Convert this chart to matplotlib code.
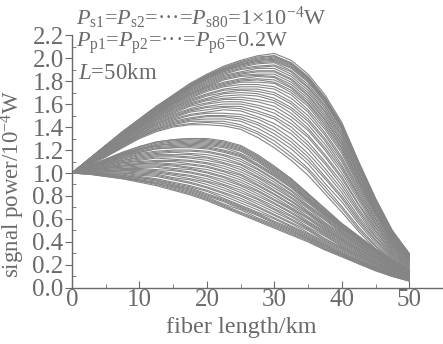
import matplotlib
matplotlib.use("Agg")
import matplotlib.pyplot as plt
from matplotlib.ticker import MultipleLocator

plt.rcParams['font.family'] = ['Liberation Serif', 'DejaVu Serif']
plt.rcParams['mathtext.fontset'] = 'custom'
plt.rcParams['mathtext.rm'] = 'Liberation Serif'
plt.rcParams['mathtext.it'] = 'Liberation Serif:italic'

fiber_km = [0, 2.5, 5, 7.5, 10, 12.5, 15, 17.5, 20, 22.5, 25,
            27.5, 30, 32.5, 35, 37.5, 40, 42.5, 45, 47.5, 50]

# signal power (10^-4 W), upper group of channels
upper_band = [
    [1.00, 1.07, 1.14, 1.22, 1.30, 1.36, 1.40, 1.42, 1.42, 1.41, 1.38, 1.31, 1.22, 1.11, 0.98, 0.82, 0.66, 0.49, 0.34, 0.22, 0.12],
    [1.00, 1.07, 1.14, 1.23, 1.31, 1.37, 1.41, 1.43, 1.44, 1.43, 1.40, 1.34, 1.25, 1.14, 1.02, 0.85, 0.69, 0.51, 0.36, 0.23, 0.13],
    [1.00, 1.07, 1.15, 1.23, 1.31, 1.38, 1.42, 1.45, 1.45, 1.45, 1.42, 1.36, 1.28, 1.17, 1.04, 0.88, 0.71, 0.53, 0.37, 0.24, 0.13],
    [1.00, 1.08, 1.15, 1.24, 1.32, 1.38, 1.43, 1.46, 1.47, 1.47, 1.45, 1.39, 1.31, 1.21, 1.08, 0.91, 0.75, 0.56, 0.39, 0.25, 0.14],
    [1.00, 1.08, 1.15, 1.24, 1.33, 1.39, 1.44, 1.47, 1.49, 1.49, 1.47, 1.42, 1.34, 1.24, 1.11, 0.95, 0.78, 0.58, 0.41, 0.26, 0.15],
    [1.00, 1.08, 1.16, 1.25, 1.33, 1.40, 1.45, 1.48, 1.50, 1.50, 1.49, 1.44, 1.37, 1.27, 1.14, 0.97, 0.80, 0.60, 0.42, 0.27, 0.15],
    [1.00, 1.08, 1.16, 1.25, 1.34, 1.41, 1.46, 1.50, 1.52, 1.52, 1.51, 1.47, 1.40, 1.30, 1.17, 1.01, 0.83, 0.62, 0.44, 0.28, 0.16],
    [1.00, 1.08, 1.17, 1.26, 1.34, 1.42, 1.47, 1.51, 1.53, 1.55, 1.54, 1.49, 1.43, 1.34, 1.21, 1.04, 0.86, 0.65, 0.45, 0.29, 0.17],
    [1.00, 1.08, 1.17, 1.26, 1.35, 1.43, 1.48, 1.53, 1.55, 1.57, 1.56, 1.52, 1.47, 1.37, 1.24, 1.08, 0.89, 0.67, 0.47, 0.30, 0.17],
    [1.00, 1.09, 1.17, 1.27, 1.36, 1.43, 1.49, 1.54, 1.57, 1.58, 1.58, 1.54, 1.49, 1.40, 1.27, 1.10, 0.92, 0.69, 0.49, 0.31, 0.18],
    [1.00, 1.09, 1.18, 1.27, 1.36, 1.44, 1.50, 1.55, 1.58, 1.60, 1.60, 1.57, 1.52, 1.43, 1.31, 1.14, 0.95, 0.72, 0.50, 0.32, 0.19],
    [1.00, 1.09, 1.18, 1.28, 1.37, 1.45, 1.51, 1.56, 1.60, 1.62, 1.62, 1.59, 1.55, 1.46, 1.33, 1.16, 0.97, 0.73, 0.52, 0.33, 0.19],
    [1.00, 1.09, 1.18, 1.28, 1.37, 1.46, 1.52, 1.58, 1.61, 1.64, 1.64, 1.62, 1.58, 1.49, 1.37, 1.20, 1.00, 0.76, 0.53, 0.34, 0.20],
    [1.00, 1.09, 1.19, 1.29, 1.38, 1.46, 1.53, 1.59, 1.63, 1.65, 1.66, 1.64, 1.61, 1.52, 1.39, 1.22, 1.03, 0.78, 0.55, 0.35, 0.20],
    [1.00, 1.09, 1.19, 1.29, 1.39, 1.47, 1.54, 1.60, 1.64, 1.67, 1.68, 1.67, 1.63, 1.55, 1.42, 1.25, 1.05, 0.80, 0.56, 0.36, 0.21],
    [1.00, 1.10, 1.19, 1.29, 1.39, 1.48, 1.55, 1.61, 1.65, 1.69, 1.70, 1.69, 1.65, 1.57, 1.45, 1.28, 1.07, 0.81, 0.57, 0.37, 0.22],
    [1.00, 1.10, 1.20, 1.30, 1.40, 1.48, 1.56, 1.62, 1.67, 1.70, 1.72, 1.71, 1.68, 1.60, 1.47, 1.30, 1.10, 0.83, 0.59, 0.38, 0.22],
    [1.00, 1.10, 1.20, 1.30, 1.40, 1.49, 1.57, 1.63, 1.68, 1.72, 1.73, 1.73, 1.70, 1.62, 1.50, 1.33, 1.12, 0.85, 0.60, 0.39, 0.23],
    [1.00, 1.10, 1.20, 1.31, 1.41, 1.50, 1.57, 1.64, 1.69, 1.73, 1.75, 1.75, 1.73, 1.65, 1.53, 1.35, 1.14, 0.87, 0.61, 0.39, 0.23],
    [1.00, 1.10, 1.21, 1.31, 1.41, 1.50, 1.58, 1.65, 1.71, 1.75, 1.77, 1.77, 1.75, 1.68, 1.55, 1.38, 1.17, 0.89, 0.63, 0.40, 0.24],
    [1.00, 1.10, 1.21, 1.32, 1.42, 1.51, 1.59, 1.66, 1.72, 1.76, 1.79, 1.79, 1.78, 1.70, 1.58, 1.40, 1.19, 0.90, 0.64, 0.41, 0.24],
    [1.00, 1.10, 1.21, 1.32, 1.42, 1.51, 1.60, 1.67, 1.73, 1.77, 1.80, 1.81, 1.79, 1.72, 1.60, 1.42, 1.21, 0.92, 0.65, 0.42, 0.25],
    [1.00, 1.11, 1.21, 1.32, 1.42, 1.52, 1.60, 1.68, 1.74, 1.78, 1.81, 1.82, 1.81, 1.74, 1.61, 1.44, 1.22, 0.93, 0.66, 0.42, 0.25],
    [1.00, 1.11, 1.21, 1.32, 1.43, 1.52, 1.61, 1.69, 1.75, 1.79, 1.82, 1.84, 1.83, 1.75, 1.63, 1.46, 1.24, 0.94, 0.67, 0.43, 0.25],
    [1.00, 1.11, 1.22, 1.33, 1.43, 1.53, 1.61, 1.69, 1.75, 1.81, 1.84, 1.85, 1.84, 1.77, 1.65, 1.47, 1.25, 0.95, 0.67, 0.43, 0.26],
    [1.00, 1.11, 1.22, 1.33, 1.43, 1.53, 1.62, 1.70, 1.76, 1.82, 1.85, 1.86, 1.86, 1.79, 1.67, 1.49, 1.27, 0.97, 0.68, 0.44, 0.26],
    [1.00, 1.11, 1.22, 1.33, 1.44, 1.54, 1.62, 1.71, 1.77, 1.83, 1.86, 1.88, 1.88, 1.81, 1.68, 1.51, 1.28, 0.98, 0.69, 0.44, 0.26],
    [1.00, 1.11, 1.22, 1.33, 1.44, 1.54, 1.63, 1.72, 1.78, 1.84, 1.87, 1.89, 1.89, 1.82, 1.70, 1.53, 1.30, 0.99, 0.70, 0.45, 0.27],
    [1.00, 1.11, 1.22, 1.34, 1.44, 1.54, 1.64, 1.72, 1.79, 1.85, 1.88, 1.91, 1.91, 1.84, 1.72, 1.54, 1.32, 1.00, 0.71, 0.46, 0.27],
    [1.00, 1.11, 1.23, 1.34, 1.45, 1.55, 1.64, 1.73, 1.80, 1.86, 1.90, 1.92, 1.93, 1.86, 1.74, 1.56, 1.33, 1.01, 0.72, 0.46, 0.27],
    [1.00, 1.11, 1.23, 1.34, 1.45, 1.55, 1.65, 1.74, 1.81, 1.87, 1.91, 1.93, 1.94, 1.88, 1.75, 1.58, 1.35, 1.03, 0.73, 0.47, 0.28],
    [1.00, 1.11, 1.23, 1.35, 1.45, 1.56, 1.65, 1.74, 1.82, 1.88, 1.92, 1.95, 1.96, 1.89, 1.77, 1.59, 1.36, 1.04, 0.74, 0.47, 0.28],
    [1.00, 1.12, 1.23, 1.35, 1.46, 1.56, 1.66, 1.75, 1.82, 1.89, 1.93, 1.96, 1.97, 1.91, 1.79, 1.61, 1.38, 1.05, 0.74, 0.48, 0.29],
    [1.00, 1.12, 1.23, 1.35, 1.46, 1.56, 1.66, 1.75, 1.83, 1.89, 1.94, 1.97, 1.98, 1.92, 1.80, 1.62, 1.39, 1.06, 0.75, 0.48, 0.29],
    [1.00, 1.12, 1.23, 1.35, 1.46, 1.57, 1.66, 1.76, 1.83, 1.90, 1.94, 1.98, 1.99, 1.93, 1.81, 1.63, 1.39, 1.06, 0.75, 0.48, 0.29],
    [1.00, 1.12, 1.24, 1.35, 1.46, 1.57, 1.67, 1.76, 1.84, 1.90, 1.95, 1.98, 2.00, 1.94, 1.82, 1.64, 1.40, 1.07, 0.76, 0.49, 0.29],
    [1.00, 1.12, 1.24, 1.35, 1.46, 1.57, 1.67, 1.77, 1.84, 1.91, 1.96, 1.99, 2.01, 1.95, 1.82, 1.65, 1.41, 1.08, 0.76, 0.49, 0.29],
    [1.00, 1.12, 1.24, 1.36, 1.46, 1.57, 1.67, 1.77, 1.85, 1.91, 1.96, 2.00, 2.02, 1.95, 1.83, 1.65, 1.42, 1.08, 0.77, 0.49, 0.29],
    [1.00, 1.12, 1.24, 1.36, 1.47, 1.58, 1.67, 1.77, 1.85, 1.92, 1.97, 2.01, 2.02, 1.96, 1.84, 1.66, 1.42, 1.09, 0.77, 0.49, 0.30],
    [1.00, 1.12, 1.24, 1.36, 1.47, 1.58, 1.68, 1.78, 1.86, 1.93, 1.98, 2.02, 2.04, 1.98, 1.86, 1.68, 1.44, 1.10, 0.78, 0.50, 0.30],
]

# signal power (10^-4 W), lower group of channels
lower_band = [
    [1.00, 0.99, 0.97, 0.95, 0.92, 0.89, 0.85, 0.81, 0.76, 0.70, 0.64, 0.58, 0.52, 0.46, 0.40, 0.33, 0.27, 0.21, 0.15, 0.10, 0.06],
    [1.00, 0.99, 0.97, 0.95, 0.93, 0.90, 0.86, 0.82, 0.77, 0.71, 0.65, 0.59, 0.53, 0.47, 0.41, 0.34, 0.28, 0.21, 0.15, 0.10, 0.06],
    [1.00, 0.99, 0.98, 0.96, 0.93, 0.91, 0.87, 0.83, 0.78, 0.72, 0.66, 0.60, 0.54, 0.48, 0.42, 0.34, 0.28, 0.22, 0.16, 0.11, 0.06],
    [1.00, 0.99, 0.98, 0.96, 0.94, 0.91, 0.88, 0.84, 0.79, 0.73, 0.68, 0.61, 0.55, 0.49, 0.43, 0.35, 0.29, 0.22, 0.16, 0.11, 0.07],
    [1.00, 1.00, 0.98, 0.97, 0.94, 0.92, 0.89, 0.85, 0.80, 0.75, 0.69, 0.63, 0.56, 0.50, 0.43, 0.36, 0.29, 0.23, 0.17, 0.11, 0.07],
    [1.00, 1.00, 0.98, 0.97, 0.95, 0.93, 0.89, 0.86, 0.81, 0.76, 0.70, 0.64, 0.57, 0.51, 0.44, 0.37, 0.30, 0.23, 0.17, 0.11, 0.07],
    [1.00, 1.00, 0.99, 0.98, 0.96, 0.94, 0.90, 0.87, 0.82, 0.77, 0.71, 0.65, 0.58, 0.52, 0.45, 0.37, 0.30, 0.24, 0.17, 0.12, 0.07],
    [1.00, 1.00, 0.99, 0.98, 0.96, 0.94, 0.91, 0.88, 0.84, 0.78, 0.72, 0.66, 0.60, 0.53, 0.46, 0.38, 0.31, 0.24, 0.18, 0.12, 0.07],
    [1.00, 1.00, 0.99, 0.99, 0.97, 0.95, 0.92, 0.89, 0.85, 0.80, 0.74, 0.68, 0.61, 0.54, 0.47, 0.39, 0.32, 0.25, 0.18, 0.12, 0.08],
    [1.00, 1.00, 1.00, 1.00, 0.98, 0.97, 0.94, 0.91, 0.87, 0.82, 0.76, 0.70, 0.63, 0.56, 0.48, 0.40, 0.33, 0.26, 0.19, 0.13, 0.08],
    [1.00, 1.01, 1.00, 1.00, 0.99, 0.98, 0.95, 0.92, 0.88, 0.83, 0.78, 0.71, 0.64, 0.57, 0.50, 0.41, 0.34, 0.27, 0.19, 0.13, 0.08],
    [1.00, 1.01, 1.01, 1.01, 1.00, 0.99, 0.96, 0.94, 0.90, 0.85, 0.80, 0.73, 0.66, 0.59, 0.51, 0.42, 0.35, 0.27, 0.20, 0.14, 0.08],
    [1.00, 1.01, 1.01, 1.02, 1.01, 1.00, 0.98, 0.95, 0.92, 0.87, 0.81, 0.75, 0.68, 0.60, 0.52, 0.43, 0.35, 0.28, 0.21, 0.14, 0.09],
    [1.00, 1.01, 1.02, 1.02, 1.02, 1.01, 0.99, 0.97, 0.93, 0.89, 0.83, 0.77, 0.69, 0.62, 0.53, 0.45, 0.36, 0.29, 0.21, 0.14, 0.09],
    [1.00, 1.01, 1.02, 1.03, 1.03, 1.02, 1.00, 0.98, 0.95, 0.90, 0.85, 0.78, 0.71, 0.63, 0.55, 0.46, 0.37, 0.29, 0.22, 0.15, 0.09],
    [1.00, 1.02, 1.03, 1.04, 1.04, 1.03, 1.02, 1.00, 0.97, 0.92, 0.87, 0.80, 0.73, 0.65, 0.56, 0.47, 0.38, 0.30, 0.22, 0.15, 0.09],
    [1.00, 1.02, 1.03, 1.04, 1.05, 1.05, 1.03, 1.01, 0.98, 0.94, 0.89, 0.82, 0.74, 0.66, 0.57, 0.48, 0.39, 0.31, 0.23, 0.16, 0.10],
    [1.00, 1.02, 1.04, 1.05, 1.06, 1.06, 1.04, 1.03, 1.00, 0.96, 0.90, 0.84, 0.76, 0.68, 0.58, 0.49, 0.40, 0.32, 0.23, 0.16, 0.10],
    [1.00, 1.02, 1.04, 1.06, 1.07, 1.07, 1.06, 1.04, 1.01, 0.97, 0.92, 0.85, 0.77, 0.69, 0.60, 0.50, 0.41, 0.32, 0.24, 0.17, 0.10],
    [1.00, 1.02, 1.05, 1.06, 1.08, 1.08, 1.07, 1.05, 1.03, 0.99, 0.94, 0.87, 0.79, 0.70, 0.61, 0.51, 0.42, 0.33, 0.25, 0.17, 0.10],
    [1.00, 1.03, 1.05, 1.07, 1.08, 1.09, 1.08, 1.07, 1.05, 1.01, 0.96, 0.89, 0.81, 0.72, 0.62, 0.52, 0.42, 0.34, 0.25, 0.17, 0.11],
    [1.00, 1.03, 1.05, 1.08, 1.09, 1.10, 1.10, 1.08, 1.06, 1.02, 0.98, 0.90, 0.82, 0.73, 0.64, 0.53, 0.43, 0.34, 0.26, 0.18, 0.11],
    [1.00, 1.03, 1.06, 1.09, 1.10, 1.11, 1.11, 1.10, 1.08, 1.04, 0.99, 0.92, 0.84, 0.75, 0.65, 0.54, 0.44, 0.35, 0.26, 0.18, 0.11],
    [1.00, 1.03, 1.06, 1.09, 1.11, 1.13, 1.12, 1.11, 1.09, 1.06, 1.01, 0.94, 0.85, 0.76, 0.66, 0.55, 0.45, 0.36, 0.27, 0.19, 0.12],
    [1.00, 1.04, 1.07, 1.10, 1.12, 1.14, 1.14, 1.13, 1.11, 1.08, 1.03, 0.96, 0.87, 0.78, 0.67, 0.56, 0.46, 0.37, 0.27, 0.19, 0.12],
    [1.00, 1.04, 1.07, 1.11, 1.13, 1.15, 1.15, 1.14, 1.13, 1.09, 1.05, 0.97, 0.89, 0.79, 0.69, 0.57, 0.47, 0.37, 0.28, 0.20, 0.12],
    [1.00, 1.04, 1.08, 1.11, 1.14, 1.16, 1.16, 1.16, 1.14, 1.11, 1.07, 0.99, 0.90, 0.81, 0.70, 0.59, 0.48, 0.38, 0.28, 0.20, 0.12],
    [1.00, 1.04, 1.08, 1.12, 1.15, 1.17, 1.18, 1.17, 1.16, 1.13, 1.08, 1.01, 0.92, 0.82, 0.71, 0.60, 0.48, 0.39, 0.29, 0.20, 0.13],
    [1.00, 1.04, 1.09, 1.13, 1.16, 1.18, 1.19, 1.19, 1.18, 1.15, 1.10, 1.03, 0.94, 0.84, 0.72, 0.61, 0.49, 0.39, 0.30, 0.21, 0.13],
    [1.00, 1.05, 1.09, 1.13, 1.17, 1.19, 1.20, 1.20, 1.19, 1.16, 1.12, 1.04, 0.95, 0.85, 0.74, 0.62, 0.50, 0.40, 0.30, 0.21, 0.13],
    [1.00, 1.05, 1.09, 1.14, 1.18, 1.21, 1.22, 1.22, 1.21, 1.18, 1.14, 1.06, 0.97, 0.87, 0.75, 0.63, 0.51, 0.41, 0.31, 0.22, 0.13],
    [1.00, 1.05, 1.10, 1.15, 1.18, 1.21, 1.22, 1.23, 1.22, 1.19, 1.15, 1.07, 0.98, 0.88, 0.76, 0.64, 0.52, 0.41, 0.31, 0.22, 0.14],
    [1.00, 1.05, 1.10, 1.15, 1.19, 1.22, 1.23, 1.24, 1.23, 1.20, 1.16, 1.08, 0.99, 0.89, 0.77, 0.64, 0.52, 0.42, 0.32, 0.22, 0.14],
    [1.00, 1.05, 1.10, 1.15, 1.20, 1.23, 1.24, 1.25, 1.24, 1.22, 1.17, 1.10, 1.00, 0.90, 0.77, 0.65, 0.53, 0.42, 0.32, 0.22, 0.14],
    [1.00, 1.05, 1.11, 1.16, 1.20, 1.24, 1.25, 1.26, 1.25, 1.23, 1.19, 1.11, 1.01, 0.91, 0.78, 0.66, 0.53, 0.43, 0.32, 0.23, 0.14],
    [1.00, 1.06, 1.11, 1.16, 1.21, 1.24, 1.26, 1.27, 1.26, 1.24, 1.20, 1.12, 1.02, 0.92, 0.79, 0.66, 0.54, 0.43, 0.33, 0.23, 0.14],
    [1.00, 1.06, 1.11, 1.17, 1.21, 1.25, 1.27, 1.28, 1.27, 1.25, 1.21, 1.13, 1.03, 0.93, 0.80, 0.67, 0.55, 0.44, 0.33, 0.23, 0.15],
    [1.00, 1.06, 1.12, 1.17, 1.22, 1.26, 1.28, 1.29, 1.28, 1.26, 1.22, 1.14, 1.04, 0.94, 0.81, 0.68, 0.55, 0.44, 0.33, 0.24, 0.15],
    [1.00, 1.06, 1.12, 1.18, 1.23, 1.27, 1.29, 1.30, 1.29, 1.27, 1.23, 1.15, 1.05, 0.95, 0.82, 0.69, 0.56, 0.45, 0.34, 0.24, 0.15],
    [1.00, 1.06, 1.12, 1.18, 1.23, 1.27, 1.29, 1.30, 1.30, 1.28, 1.24, 1.16, 1.06, 0.95, 0.82, 0.69, 0.56, 0.45, 0.34, 0.24, 0.15],
]

ink = '#6a6a6a'
line_col = '#858585'

fig = plt.figure(figsize=(4.43, 3.44), dpi=100)
ax = fig.add_axes([0.1625, 0.163, 0.8375, 0.735])

for row in upper_band + lower_band:
    ax.plot(fiber_km, row, color=line_col, lw=0.8)

ax.set_xlim(0, 55)
ax.set_ylim(0, 2.2)
ax.xaxis.set_minor_locator(MultipleLocator(5))
ax.yaxis.set_minor_locator(MultipleLocator(0.1))
ax.set_xticks([0, 10, 20, 30, 40, 50])
yt = [0.0, 0.2, 0.4, 0.6, 0.8, 1.0, 1.2, 1.4, 1.6, 1.8, 2.0, 2.2]
ax.set_yticks(yt)
ax.set_yticklabels([f'{v:.1f}' for v in yt])

for s in ['top', 'right']:
    ax.spines[s].set_visible(False)
for s in ['left', 'bottom']:
    ax.spines[s].set_color(ink)
    ax.spines[s].set_linewidth(1.0)

ax.tick_params(axis='x', which='both', direction='in', colors=ink, labelsize=18, pad=0.5)
ax.tick_params(axis='x', which='major', length=5)
ax.tick_params(axis='x', which='minor', length=3)
ax.tick_params(axis='y', which='major', direction='out', length=5, colors=ink, labelsize=18, pad=1)
ax.tick_params(axis='y', which='minor', direction='in', length=3, colors=ink)

ax.set_xlabel('fiber length/km', fontsize=17.5, color=ink)
ax.xaxis.set_label_coords(0.456, -0.115)
ax.set_ylabel('signal power/10$^{-4}$W', fontsize=16.5, color=ink)
ax.yaxis.set_label_coords(-0.121, 0.41)

fig.text(0.172, 0.948, r'$P_{\rm s1}$=$P_{\rm s2}$=···=$P_{\rm s80}$=1×10$^{-4}$W',
         fontsize=16, color=ink, va='center', ha='left')
fig.text(0.172, 0.875, r'$P_{\rm p1}$=$P_{\rm p2}$=···=$P_{\rm p6}$=0.2W',
         fontsize=16, color=ink, va='center', ha='left')
fig.text(0.175, 0.785, r'$L$=50km', fontsize=16.5, color=ink, va='center', ha='left')

fig.savefig('out.png', dpi=100)
